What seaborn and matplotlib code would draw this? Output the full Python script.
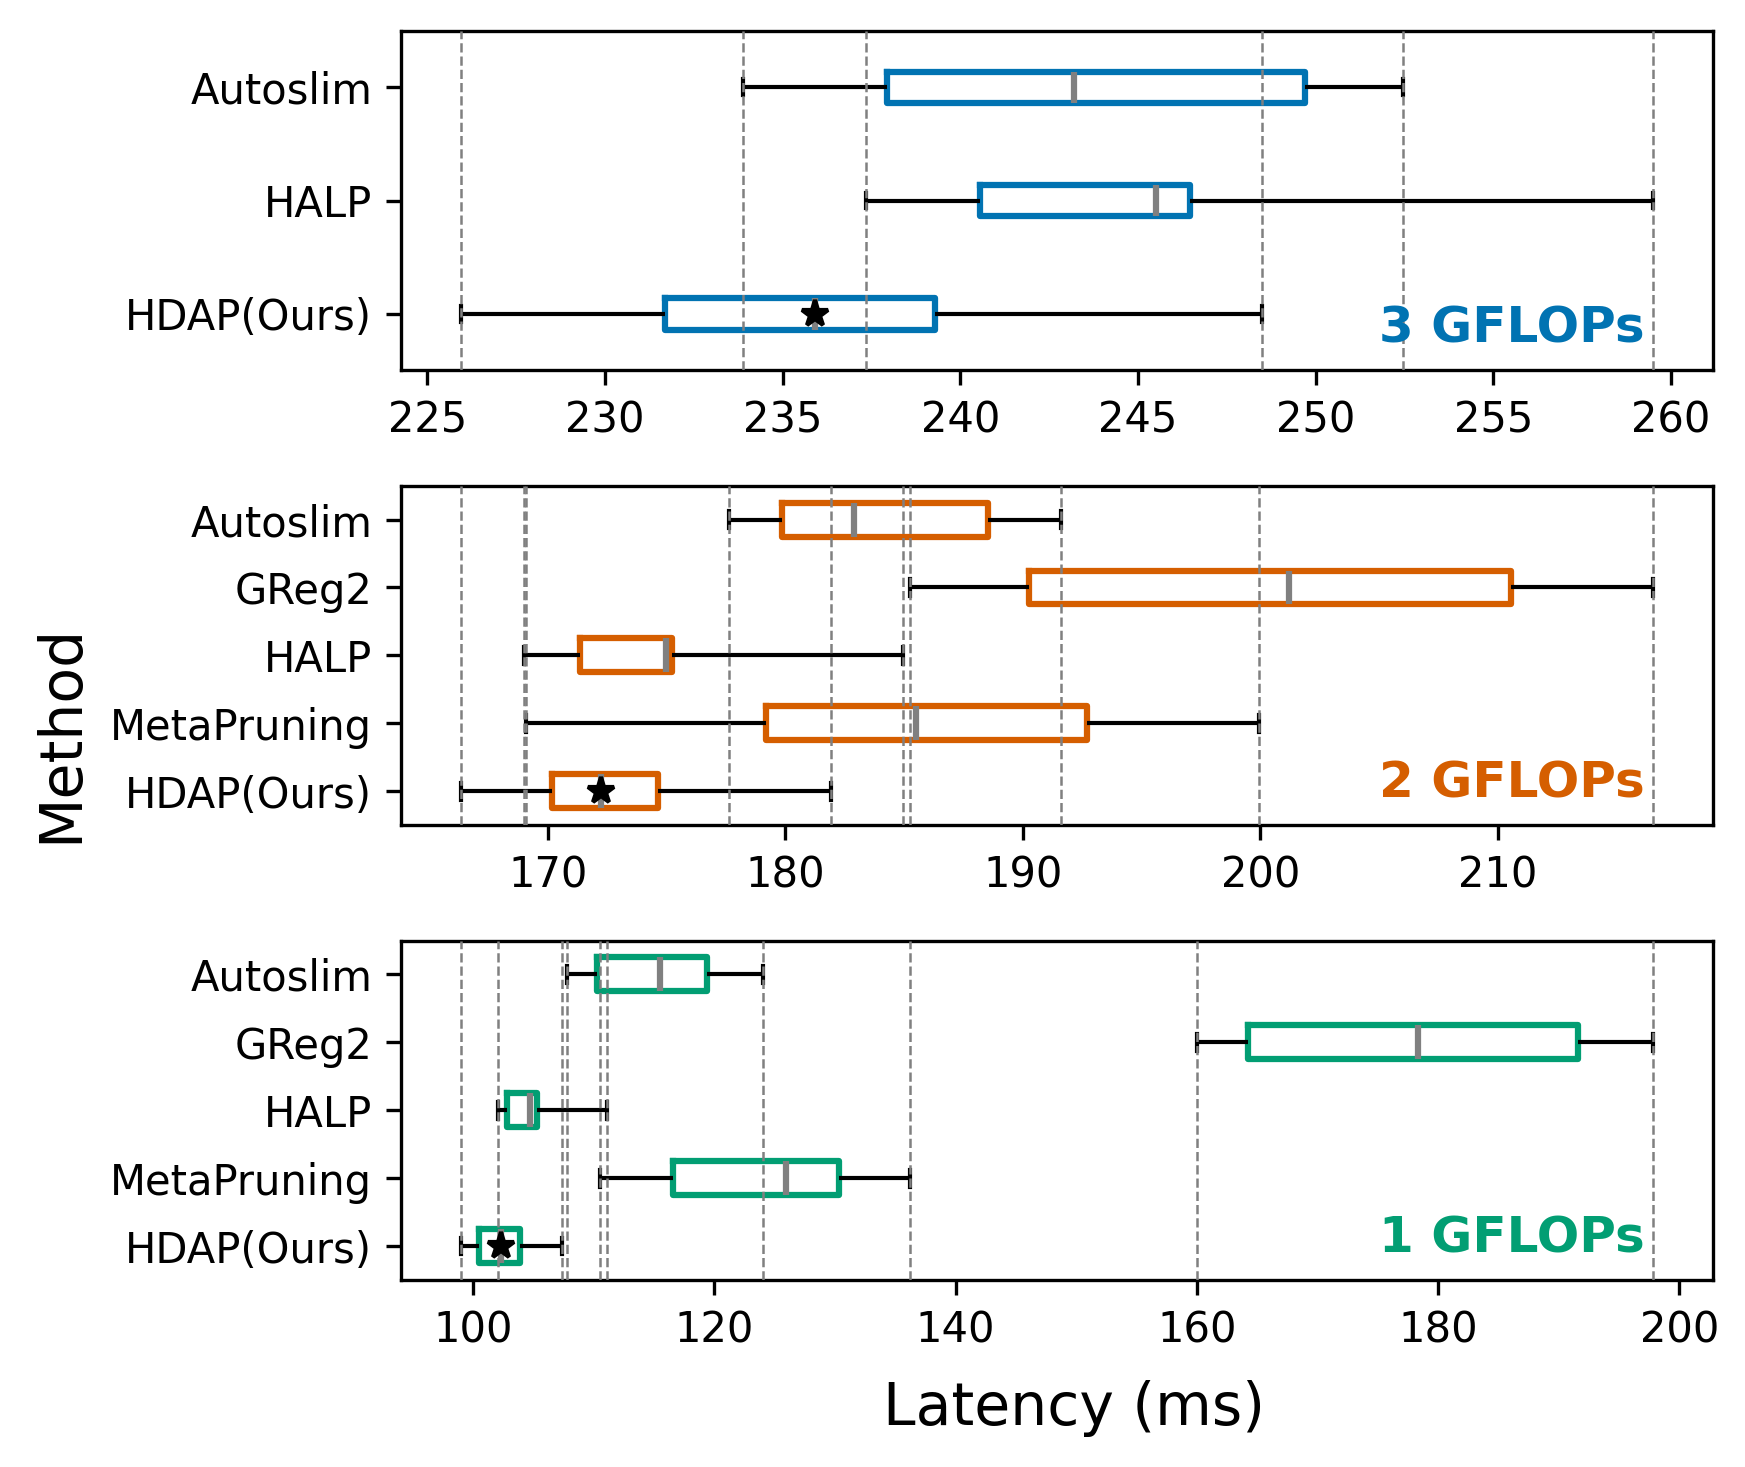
import numpy as np
import pandas as pd
import matplotlib
matplotlib.use("Agg")
import matplotlib.pyplot as plt
from matplotlib.ticker import MultipleLocator
import seaborn as sns

# five-number summaries:
# whisker low, Q1, median, Q3, whisker high (ms)

# 3 GFLOPs
methods_3g = ['Autoslim', 'HALP', 'HDAP(Ours)']
autoslim_3g = [233.9, 237.95, 243.2, 249.7, 252.45]
halp_3g = [237.35, 240.55, 245.5, 246.45, 259.5]
hdap_3g = [225.95, 231.7, 235.9, 239.3, 248.5]

# 2 GFLOPs
methods_2g = ['Autoslim', 'GReg2', 'HALP', 'MetaPruning', 'HDAP(Ours)']
autoslim_2g = [177.65, 179.85, 182.9, 188.55, 191.6]
greg2_2g = [185.25, 190.25, 201.2, 210.55, 216.55]
halp_2g = [169.0, 171.35, 175.0, 175.25, 184.95]
meta_2g = [169.1, 179.2, 185.5, 192.7, 199.95]
hdap_2g = [166.35, 170.2, 172.25, 174.65, 181.95]

# 1 GFLOPs
methods_1g = ['Autoslim', 'GReg2', 'HALP', 'MetaPruning', 'HDAP(Ours)']
autoslim_1g = [107.8, 110.25, 115.5, 119.4, 124.05]
greg2_1g = [160.05, 164.25, 178.35, 191.6, 197.85]
halp_1g = [102.05, 102.8, 104.7, 105.3, 111.1]
meta_1g = [110.5, 116.55, 125.95, 130.3, 136.25]
hdap_1g = [99.0, 100.5, 102.3, 103.9, 107.4]

colors = sns.color_palette('colorblind')
blue, green, orange = colors[0], colors[2], colors[3]


def make_frame(methods, values):
    """Long table, one row per value."""
    rows = []
    for m, vals in zip(methods, values):
        for v in vals:
            rows.append({'Method': m, 'Latency': v})
    return pd.DataFrame(rows)


def draw_panel(ax, methods, values, color, label, width, step):
    df = make_frame(methods, values)
    sns.boxplot(data=df, x='Latency', y='Method', order=methods, orient='h',
                ax=ax, whis=(0, 100), width=width, fill=False, color=color,
                showfliers=False,
                boxprops={'color': color, 'linewidth': 1.5},
                medianprops={'color': 'gray', 'linewidth': 1.5},
                whiskerprops={'color': 'black', 'linewidth': 1.0},
                capprops={'color': 'black', 'linewidth': 1.0})

    # dashed guide lines at every whisker end
    for vals in values:
        for x in (min(vals), max(vals)):
            ax.axvline(x, color='gray', linestyle='--', linewidth=0.6, zorder=3)

    # star on our median
    ours = methods.index('HDAP(Ours)')
    ax.plot(np.median(values[ours]), ours, marker='*', color='black',
            markersize=6.5, linestyle='none', zorder=4)

    ax.text(0.948, 0.081, label, transform=ax.transAxes, ha='right',
            va='baseline', fontsize=12, fontweight='bold', color=color)

    ax.set_ylim(len(methods) - 0.5, -0.5)
    ax.xaxis.set_major_locator(MultipleLocator(step))
    ax.set_xlabel('')
    ax.set_ylabel('')
    ax.tick_params(labelsize=10)


fig, axes = plt.subplots(3, 1, figsize=(1745 / 300, 1467 / 300), dpi=300)
fig.subplots_adjust(left=0.230, right=0.9816, bottom=0.1275, top=0.979,
                    hspace=0.34)

draw_panel(axes[0], methods_3g, [autoslim_3g, halp_3g, hdap_3g],
           blue, '3 GFLOPs', 0.28, 5)
draw_panel(axes[1], methods_2g, [autoslim_2g, greg2_2g, halp_2g, meta_2g, hdap_2g],
           orange, '2 GFLOPs', 0.5, 10)
draw_panel(axes[2], methods_1g, [autoslim_1g, greg2_1g, halp_1g, meta_1g, hdap_1g],
           green, '1 GFLOPs', 0.5, 20)

axes[2].set_xlabel('Latency (ms)', fontsize=14, labelpad=7)
axes[2].xaxis.label.set_x(0.513)
fig.text(0.035, 0.5, 'Method', rotation=90, ha='center', va='center',
         fontsize=14)

fig.savefig('out.png', dpi=300)
